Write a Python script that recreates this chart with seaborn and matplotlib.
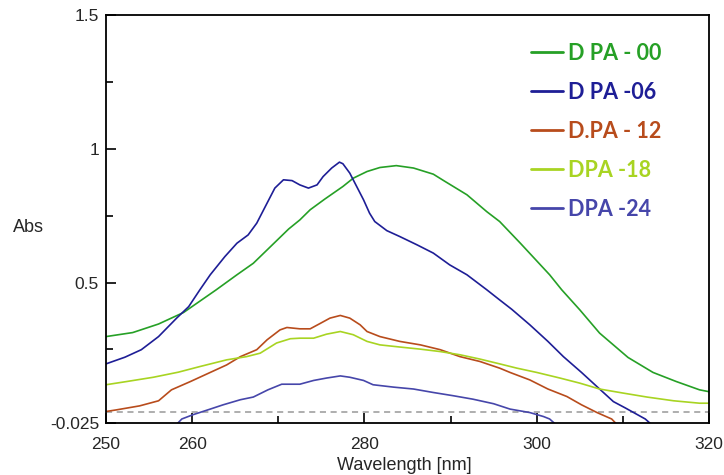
import pandas as pd
import seaborn as sns
import matplotlib.pyplot as plt

# absorbance spectra
dpa00_x = [250, 253.1, 256.1, 259.0, 262.8, 265.2, 267.1, 268.8, 271.2, 272.5, 273.7, 275.4, 277.5,
           278.7, 280.3, 281.8, 283.7, 285.7, 288.0, 289.2, 291.9, 294.2, 295.7, 298.1, 301.5, 302.9,
           305.0, 307.3, 310.6, 313.5, 316.2, 318.9, 320]
dpa00_y = [0.298, 0.313, 0.345, 0.388, 0.473, 0.529, 0.572, 0.625, 0.700, 0.734, 0.772, 0.812, 0.859,
           0.890, 0.915, 0.930, 0.937, 0.928, 0.905, 0.881, 0.828, 0.765, 0.728, 0.647, 0.529, 0.473,
           0.398, 0.311, 0.220, 0.164, 0.130, 0.099, 0.092]

dpa06_x = [250, 252.2, 254.1, 256.1, 258.2, 259.6, 260.9, 262.1, 263.8, 265.2, 266.5, 267.5, 268.7,
           269.6, 270.6, 271.6, 272.5, 273.5, 274.5, 275.2, 276.2, 277.1, 277.5, 278.3, 279.1, 279.9,
           280.6, 281.2, 282.6, 284.1, 286.1, 288.0, 289.9, 291.9, 294.2, 295.7, 297.1, 299.2, 301.3,
           303.1, 305.2, 307.3, 308.9, 310.3, 312.6, 313.3]
dpa06_y = [0.196, 0.221, 0.249, 0.298, 0.367, 0.410, 0.473, 0.529, 0.597, 0.647, 0.678, 0.722, 0.797,
           0.853, 0.884, 0.881, 0.865, 0.853, 0.865, 0.896, 0.928, 0.950, 0.944, 0.909, 0.859, 0.809,
           0.759, 0.728, 0.694, 0.672, 0.641, 0.610, 0.566, 0.529, 0.473, 0.435, 0.400, 0.342, 0.280,
           0.223, 0.164, 0.102, 0.055, 0.031, -0.010, -0.030]

dpa12_x = [250, 251.2, 253.9, 256.1, 257.6, 259.8, 262.1, 264.0, 265.6, 267.5, 268.7, 270.2, 271.0,
           272.5, 273.7, 274.8, 276.0, 277.2, 278.3, 279.5, 280.3, 281.8, 284.1, 286.5, 288.8, 291.1,
           293.4, 295.7, 296.9, 299.2, 301.3, 303.5, 305.2, 307.0, 308.7, 309.3]
dpa12_y = [0.018, 0.024, 0.039, 0.058, 0.099, 0.130, 0.164, 0.192, 0.223, 0.249, 0.286, 0.323, 0.332,
           0.327, 0.327, 0.346, 0.367, 0.377, 0.367, 0.342, 0.317, 0.298, 0.280, 0.267, 0.249, 0.223,
           0.205, 0.180, 0.164, 0.136, 0.102, 0.074, 0.043, 0.014, -0.010, -0.030]

dpa18_x = [250, 252.4, 255.5, 258.4, 260.9, 264.0, 266.3, 267.9, 269.8, 271.4, 272.5, 274.1, 275.6,
           277.2, 278.7, 280.3, 281.8, 284.1, 286.5, 288.8, 291.1, 293.4, 295.7, 297.7, 300.0, 302.7,
           305.0, 307.3, 310.0, 312.8, 315.9, 318.9, 320]
dpa18_y = [0.118, 0.130, 0.146, 0.165, 0.186, 0.211, 0.223, 0.236, 0.274, 0.290, 0.292, 0.292, 0.307,
           0.317, 0.305, 0.280, 0.267, 0.259, 0.251, 0.242, 0.230, 0.214, 0.196, 0.180, 0.164, 0.143,
           0.124, 0.102, 0.087, 0.072, 0.058, 0.049, 0.049]

dpa24_x = [258.2, 258.8, 260.1, 262.1, 263.6, 265.6, 267.1, 268.8, 270.4, 272.5, 274.1, 275.6, 277.2,
           278.3, 279.9, 281.0, 283.4, 285.7, 288.0, 290.3, 292.6, 295.0, 296.9, 299.2, 300.8, 301.5,
           302.2]
dpa24_y = [-0.030, -0.010, 0.006, 0.027, 0.043, 0.062, 0.072, 0.099, 0.120, 0.120, 0.134, 0.143, 0.151,
           0.146, 0.134, 0.118, 0.109, 0.102, 0.089, 0.077, 0.064, 0.047, 0.027, 0.014, -0.001, -0.010,
           -0.030]

labels = ["D PA - 00", "D PA -06", "D.PA - 12", "DPA -18", "DPA -24"]
colors = ["#26a026", "#1e1e96", "#b84c1c", "#a8d422", "#4646aa"]

series = [(dpa00_x, dpa00_y), (dpa06_x, dpa06_y), (dpa12_x, dpa12_y),
          (dpa18_x, dpa18_y), (dpa24_x, dpa24_y)]
frames = []
for name, (xs, ys) in zip(labels, series):
    frames.append(pd.DataFrame({"Wavelength": xs, "Abs": ys, "sample": name}))
df = pd.concat(frames, ignore_index=True)

sns.set_style("white")
plt.rcParams["font.family"] = ["Liberation Sans", "DejaVu Sans"]

fig = plt.figure(figsize=(7.24, 4.75), dpi=100)
ax = fig.add_axes([106 / 724, 1 - 423 / 475, 603 / 724, 408 / 475])

sns.lineplot(data=df, x="Wavelength", y="Abs", hue="sample", hue_order=labels,
             palette=dict(zip(labels, colors)), estimator=None, sort=False,
             linewidth=1.2, ax=ax)

# grey dashed baseline
ax.axhline(0.015, color="#999999", linestyle=(0, (4, 3)), linewidth=1.1, zorder=0)

ax.set_xlim(250, 320)
ax.set_ylim(-0.025, 1.5)
ax.set_xticks([250, 260, 280, 300, 320])
ax.set_xticks([270, 290, 310], minor=True)
ax.set_yticks([-0.025, 0.5, 1, 1.5])
ax.set_yticklabels(["-0.025", "0.5", "1", "1.5"])
ax.set_yticks([0.25, 0.75, 1.25], minor=True)
ax.tick_params(which="both", direction="in", top=False, right=False, bottom=True, left=True,
               width=1.2, color="black", labelsize=12.5)
ax.tick_params(which="major", length=7.5)
ax.tick_params(which="minor", length=5)
ax.tick_params(axis="x", pad=10)
ax.tick_params(axis="y", pad=5)
for s in ax.spines.values():
    s.set_color("black")
    s.set_linewidth(1.3)

ax.set_xlabel("Wavelength [nm]", fontsize=13, va="center")
ax.xaxis.set_label_coords(0.495, -0.103)
ax.set_ylabel("Abs", fontsize=13, rotation=0, va="center", ha="center")
ax.yaxis.set_label_coords(-0.129, 0.478)

handles, _ = ax.get_legend_handles_labels()
leg = ax.legend(handles, labels, loc="upper left", bbox_to_anchor=(0.672, 0.98), frameon=False,
                labelcolor="linecolor", prop={"family": "Lato", "weight": "bold", "size": 15.5},
                handlelength=1.5, handletextpad=0.25, labelspacing=0.84)
for line in leg.get_lines():
    line.set_linewidth(2)

fig.savefig("out.png", dpi=100)
